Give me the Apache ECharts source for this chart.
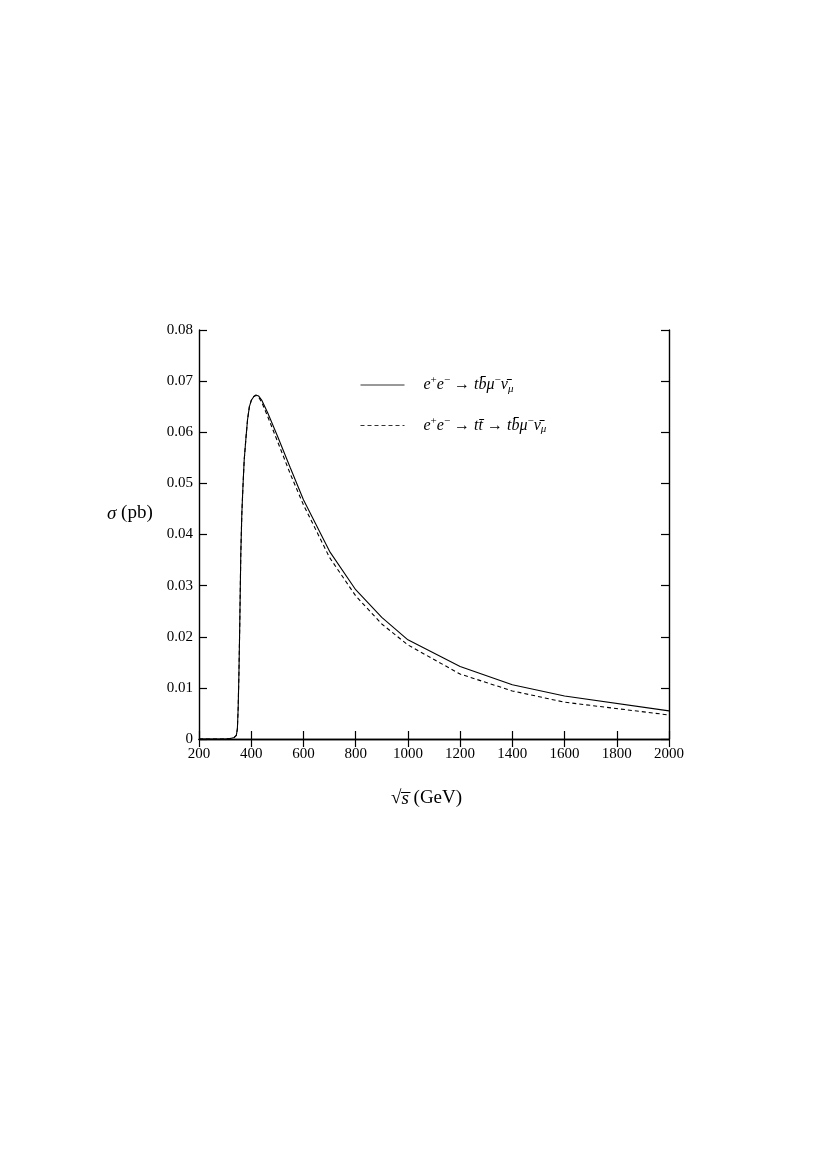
<!DOCTYPE html>
<html>
<head>
<meta charset="utf-8">
<script src="https://cdn.jsdelivr.net/npm/echarts@6/dist/echarts.min.js"></script>
<style>
html,body{margin:0;padding:0;background:#fff;}
#c{width:828px;height:1170px;}
</style>
</head>
<body>
<div id="c"></div>
<script>
// sqrt(s) in GeV and sigma in pb
const solidX = [200, 300, 320, 335, 343, 347, 350, 353, 356, 360, 364, 368, 373, 380, 386, 393, 400, 410, 418, 428, 440, 463, 500, 550, 600, 700, 800, 900, 1000, 1200, 1400, 1600, 2000];
const solidY = [0, 0, 0.0001, 0.0003, 0.0007, 0.002, 0.006, 0.013, 0.022, 0.036, 0.044, 0.049, 0.0545, 0.059, 0.0625, 0.065, 0.0662, 0.067, 0.0673, 0.0671, 0.0663, 0.0638, 0.0593, 0.0530, 0.0468, 0.0367, 0.0292, 0.0238, 0.0194, 0.0142, 0.0106, 0.0084, 0.0055];
const dashedX = [200, 300, 320, 335, 343, 347, 350, 353, 356, 360, 364, 368, 373, 380, 386, 393, 400, 410, 418, 428, 440, 463, 500, 550, 600, 700, 800, 900, 1000, 1200, 1400, 1600, 2000];
const dashedY = [0, 0, 0.0001, 0.0003, 0.0007, 0.002, 0.006, 0.013, 0.022, 0.036, 0.044, 0.049, 0.0545, 0.059, 0.0625, 0.065, 0.0662, 0.067, 0.0672, 0.0669, 0.0659, 0.0631, 0.0583, 0.0518, 0.0458, 0.0355, 0.0280, 0.0225, 0.0184, 0.0127, 0.0094, 0.0072, 0.0047];
const xTicks = [200, 400, 600, 800, 1000, 1200, 1400, 1600, 1800, 2000];
const yTicks = [0, 0.01, 0.02, 0.03, 0.04, 0.05, 0.06, 0.07, 0.08];
const seriesNames = ['full', 'tt'];

const serif = '"Liberation Serif", "DejaVu Serif", serif';
const chart = echarts.init(document.getElementById('c'), null, {renderer: 'canvas'});

const richStyles = {
  sp: {width: 14},
  i: {fontFamily: serif, fontStyle: 'italic', fontSize: 16, color: '#000'},
  r: {fontFamily: serif, fontSize: 16, color: '#000'},
  sup: {fontFamily: serif, fontSize: 11, color: '#000', padding: [0, 0, 9, 0]},
  sub: {fontFamily: serif, fontStyle: 'italic', fontSize: 11, color: '#000', padding: [8, 0, 0, 0]}
};
const legendText = {
  full: '{sp|}{i|e}{sup|+}{i|e}{sup|\u2212}{r| \u2192 }{i|tb\u0304\u03bc}{sup|\u2212}{i|\u03bd\u0304}{sub|\u03bc}',
  tt: '{sp|}{i|e}{sup|+}{i|e}{sup|\u2212}{r| \u2192 }{i|tt\u0304}{r| \u2192 }{i|tb\u0304\u03bc}{sup|\u2212}{i|\u03bd\u0304}{sub|\u03bc}'
};

const axisLine = {show: true, lineStyle: {color: '#000', width: 1.4}};
const tick = {show: true, inside: true, length: 8, lineStyle: {color: '#000', width: 1.2}};

chart.setOption({
  animation: false,
  backgroundColor: '#fff',
  grid: {left: 199, right: 159, top: 330, bottom: 431, show: false},
  legend: {
    orient: 'vertical',
    left: 355,
    top: 370,
    itemWidth: 44,
    itemHeight: 14,
    itemGap: 21,
    data: seriesNames,
    formatter: n => legendText[n],
    itemStyle: {opacity: 0, borderWidth: 0},
    lineStyle: {width: 1, color: '#333'},
    textStyle: {rich: richStyles, fontFamily: serif, fontSize: 16, color: '#000'}
  },
  xAxis: [
    {type: 'value', min: xTicks[0], max: xTicks[xTicks.length - 1], interval: 200,
     axisLine, axisTick: tick, splitLine: {show: false},
     axisLabel: {show: true, fontFamily: serif, fontSize: 15, color: '#000', margin: 8,
       formatter: v => String(v)}},
    {type: 'value', position: 'top', min: xTicks[0], max: xTicks[xTicks.length - 1], interval: 200,
     axisLine, axisTick: tick, splitLine: {show: false}, axisLabel: {show: false}}
  ],
  yAxis: [
    {type: 'value', min: yTicks[0], max: yTicks[yTicks.length - 1], interval: 0.01,
     axisLine, axisTick: tick, splitLine: {show: false},
     axisLabel: {show: true, fontFamily: serif, fontSize: 15, color: '#000', margin: 6,
       formatter: v => v === 0 ? '0' : v.toFixed(2)}},
    {type: 'value', position: 'right', min: yTicks[0], max: yTicks[yTicks.length - 1], interval: 0.01,
     axisLine, axisTick: tick, splitLine: {show: false}, axisLabel: {show: false}}
  ],
  series: [
    {name: seriesNames[0], type: 'line', symbol: 'none', smooth: false,
     data: solidX.map((x, i) => [x, solidY[i]]),
     lineStyle: {color: '#000', width: 1.1, type: 'solid'}, itemStyle: {color: '#000'}},
    {name: seriesNames[1], type: 'line', symbol: 'none', smooth: false,
     data: dashedX.map((x, i) => [x, dashedY[i]]),
     lineStyle: {color: '#000', width: 1.1, type: [4, 3]}, itemStyle: {color: '#000'}}
  ],
  graphic: [
    {type: 'text', left: 107, top: 504,
     style: {text: '{i|\u03c3}{r| (pb)}', rich: {
       i: {fontFamily: serif, fontStyle: 'italic', fontSize: 19, color: '#000'},
       r: {fontFamily: serif, fontSize: 19, color: '#000'}}}},
    {type: 'text', left: 391, top: 789,
     style: {text: '{r|\u221a}{i|s\u0305}{r| (GeV)}', rich: {
       i: {fontFamily: serif, fontStyle: 'italic', fontSize: 19, color: '#000'},
       r: {fontFamily: serif, fontSize: 19, color: '#000'}}}}
  ]
});
</script>
</body>
</html>
